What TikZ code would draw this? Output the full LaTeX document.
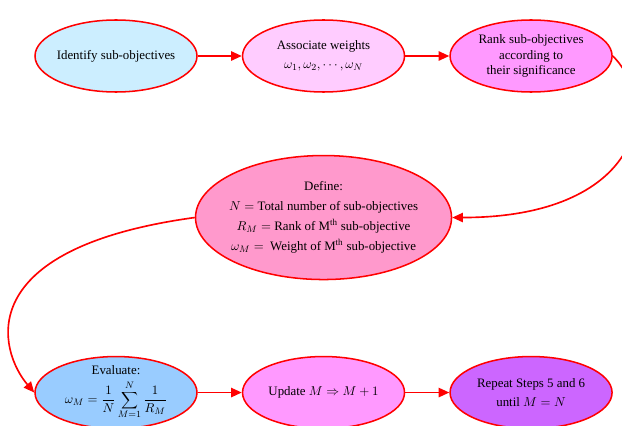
\documentclass[tikz,border=0pt]{standalone}
\usepackage{fontspec}
\setmainfont{Liberation Serif}
\usetikzlibrary{shapes.geometric, arrows.meta, positioning}

\definecolor{paleblue}{HTML}{CCEEFF}
\definecolor{palepink}{HTML}{FFCCFF}
\definecolor{midpink}{HTML}{FF99FF}
\definecolor{rosepink}{HTML}{FF99CC}
\definecolor{skyblue}{HTML}{99CCFF}
\definecolor{violet}{HTML}{CC66FF}

\tikzset{
  stepnode/.style={draw=red, line width=1.3pt, ellipse, inner sep=-8pt, align=center,
    minimum width=4.86cm, minimum height=2.16cm, font=\fontsize{11}{13}\selectfont},
  flow/.style={-{Triangle[length=3.2mm,width=2.8mm]}, draw=red, line width=1.4pt}
}

\begin{document}
\begin{tikzpicture}[x=0.03cm, y=-0.03cm, node distance=1.32cm]
\useasboundingbox (0,0) rectangle (622,426);

% Nodes
\node (identify) [stepnode, fill=paleblue] at (116,56) {Identify sub-objectives};
\node (associate) [stepnode, fill=palepink, right=of identify] {Associate weights\\[3pt] $\omega_1,\omega_2,\cdots,\omega_N$};
\node (rank) [stepnode, fill=midpink, right=of associate] {Rank sub-objectives\\ according to\\ their significance};
\node (define) [stepnode, fill=rosepink, below=1.86cm of associate, minimum width=7.68cm, minimum height=3.72cm]
  {Define:\\[4pt] $N=$ Total number of sub-objectives\\[4pt] $R_M=$ Rank of M\textsuperscript{th} sub-objective\\[4pt] $\omega_M=$ \ Weight of M\textsuperscript{th} sub-objective};
\node (evaluate) [stepnode, fill=skyblue, below=7.89cm of identify] {Evaluate:\\[4pt] $\displaystyle\omega_M=\frac{1}{N}\sum_{M=1}^{N}\frac{1}{R_M}$};
\node (update) [stepnode, fill=midpink, right=of evaluate] {Update $M\Rightarrow M+1$};
\node (repeat) [stepnode, fill=violet, right=of update] {Repeat Steps 5 and 6\\[3pt] until $M=N$};

% Arrows
\draw[flow] (identify) -- (associate);
\draw[flow] (associate) -- (rank);
\draw[flow] (rank.east) .. controls +(51,52) and +(185,0) .. (define.east);
\draw[flow] (define.west) .. controls +(-226,31) and +(-35,-41) .. (evaluate.west);
\draw[flow] (evaluate) -- (update);
\draw[flow] (update) -- (repeat);

\end{tikzpicture}
\end{document}
